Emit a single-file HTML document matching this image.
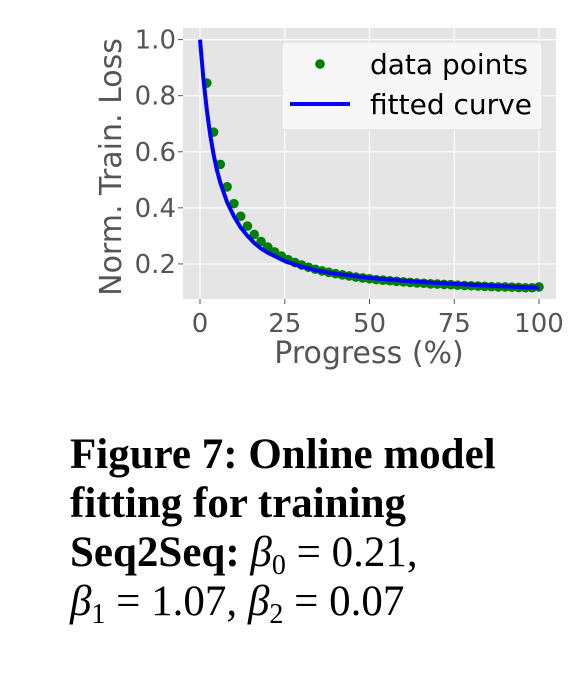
<!DOCTYPE html>
<html><head><meta charset="utf-8">
<style>
html,body{margin:0;padding:0;background:#fff;width:588px;height:683px;overflow:hidden}
#cap{position:absolute;left:70px;top:430px;font-family:"Liberation Serif",serif;font-size:43px;line-height:49px;color:#000;white-space:nowrap}
#cap b{font-weight:bold}
#cap i{font-style:italic}
#cap sub{font-size:28px;vertical-align:-8px;line-height:0}
</style></head><body>
<svg id="chart" width="588" height="420" style="position:absolute;left:0;top:0" xmlns="http://www.w3.org/2000/svg" font-family="'DejaVu Sans', sans-serif"></svg>
<div id="cap"><b>Figure 7: Online model</b><br><b>fitting for training</b><br><b>Seq2Seq:</b> <i>β</i><sub>0</sub> = 0.21,<br><i>β</i><sub>1</sub> = 1.07, <i>β</i><sub>2</sub> = 0.07</div>
<script>
const xTicks=[0,25,50,75,100];
const yTicks=[0.2,0.4,0.6,0.8,1.0];
const yTickLabels=["0.2","0.4","0.6","0.8","1.0"];
const pointX=[2,4,6,8,10,12,14,16,18,20,22,24,26,28,30,32,34,36,38,40,42,44,46,48,50,52,54,56,58,60,62,64,66,68,70,72,74,76,78,80,82,84,86,88,90,92,94,96,98,100];
const pointY=[0.845,0.67,0.555,0.475,0.415,0.37,0.335,0.305,0.28,0.26,0.243,0.228,0.215,0.205,0.196,0.188,0.181,0.175,0.17,0.165,0.161,0.157,0.153,0.15,0.147,0.144,0.142,0.14,0.138,0.136,0.134,0.132,0.131,0.129,0.128,0.127,0.126,0.124,0.123,0.122,0.121,0.12,0.119,0.118,0.118,0.117,0.116,0.115,0.115,0.118];
const curveX=[0,1,2,3,4,5,6,8,10,12,14,16,18,20,25,30,35,40,50,60,70,80,90,100];
const curveY=[1.0,0.86,0.75,0.66,0.59,0.535,0.49,0.42,0.37,0.33,0.30,0.275,0.255,0.24,0.21,0.19,0.175,0.165,0.15,0.14,0.132,0.126,0.12,0.115];
const svg=document.getElementById('chart');
const NS='http://www.w3.org/2000/svg';
const sx=v=>200+v*3.39;
const sy=v=>320-v*280.4;
function mk(t,a,p){const e=document.createElementNS(NS,t);for(const k in a)e.setAttribute(k,a[k]);(p||svg).appendChild(e);return e;}
const bg=mk('rect',{x:183,y:28,width:373,height:271,fill:'#e5e5e5'});


xTicks.forEach(v=>{
  const g=mk('line',{x1:sx(v),x2:sx(v),y1:28,y2:299,stroke:'#fff','stroke-width':1.2});
  
  
  mk('line',{x1:sx(v),x2:sx(v),y1:299,y2:304,stroke:'#555','stroke-width':1});
  const t=mk('text',{x:sx(v),y:332,'text-anchor':'middle','font-size':26,fill:'#555'});
  t.textContent=v;
  
  
});
yTicks.forEach((v,i)=>{
  const g=mk('line',{x1:183,x2:556,y1:sy(v),y2:sy(v),stroke:'#fff','stroke-width':1.2});
  
  
  mk('line',{x1:178,x2:183,y1:sy(v),y2:sy(v),stroke:'#555','stroke-width':1});
  const t=mk('text',{x:176,y:sy(v)+9,'text-anchor':'end','font-size':26,fill:'#555'});
  t.textContent=yTickLabels[i];
  
  
});
pointX.forEach((x,i)=>{
  const c=mk('circle',{cx:sx(x),cy:sy(pointY[i]),r:4.8,fill:'#008000'});
  
  
});
const path=mk('path',{d:curveX.map((x,i)=>(i?'L':'M')+sx(x).toFixed(1)+','+sy(curveY[i]).toFixed(1)).join(''),fill:'none',stroke:'#0000ff','stroke-width':4,'stroke-linejoin':'round'});


const lg=mk('g',{});


mk('rect',{x:282,y:42,width:260,height:88,rx:4,fill:'#f7f7f7',stroke:'#ddd'},lg);
mk('circle',{cx:320,cy:64,r:4.8,fill:'#008000'},lg);
mk('line',{x1:290,x2:350,y1:104,y2:104,stroke:'#0000ff','stroke-width':4},lg);
const l1=mk('text',{x:370,y:74,'font-size':28,fill:'#000'},lg);l1.textContent='data points';


const l2=mk('text',{x:370,y:114,'font-size':28,fill:'#000'},lg);l2.textContent='fitted curve';


const xl=mk('text',{x:369,y:363,'text-anchor':'middle','font-size':30,fill:'#555'});
xl.textContent='Progress (%)';


const yl=mk('text',{x:0,y:0,'text-anchor':'middle','font-size':30,fill:'#555',transform:'translate(121,167) rotate(-90)'});
yl.textContent='Norm. Train. Loss';


</script>
</body></html>
